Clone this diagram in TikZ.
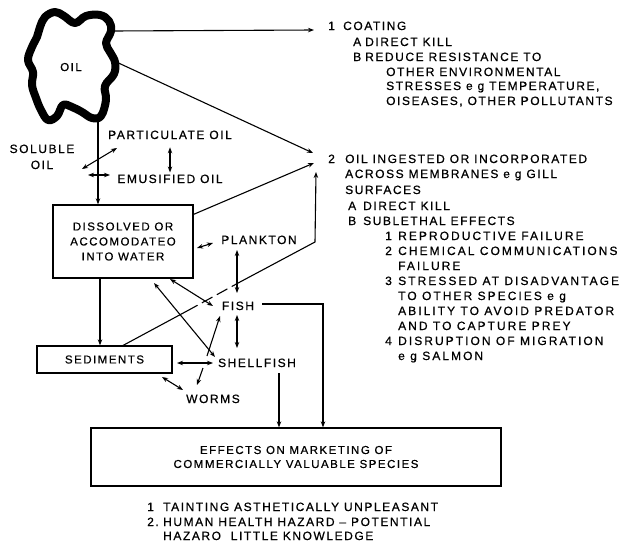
\documentclass[tikz,border=0pt]{standalone}
\usepackage{fontspec}
\setmainfont{Liberation Sans}[LetterSpace=13, FakeBold=0.6]
\usetikzlibrary{arrows.meta,calc}
\newcommand\txtline[3]{\node[txt] (#1) at #2 {#3};}
\begin{document}
\begin{tikzpicture}[x=1pt,y=-1pt,
  font=\fontsize{12}{15}\selectfont,
  txt/.style={anchor=base west, inner sep=0pt},
  ctr/.style={anchor=base, inner sep=0pt},
  boxfont/.style={font=\fontsize{11.5}{15}\selectfont},
  wide/.style={font=\fontsize{12}{15}\selectfont\addfontfeature{LetterSpace=17}},
  boxed/.style={draw, line width=1.3pt, inner sep=0pt, align=center, boxfont},
  link/.style={line width=1.1pt},
  arr/.style={link, -{Stealth[length=6pt,width=4.5pt]}},
  darr/.style={link, {Stealth[length=6pt,width=4.5pt]}-{Stealth[length=6pt,width=4.5pt]}},
  dash link/.style={link, dash pattern=on 12pt off 5pt},
]
\fill[white] (0,0) rectangle (621,546);
\useasboundingbox (0,0) rectangle (621,546);

% the oil slick
\draw[line width=8pt, line join=round]
  plot[smooth cycle, tension=0.65] coordinates {
    (45,17) (55,12) (64,16) (75,23) (86,16) (100,15) (109,21)
    (111,31) (106,43) (110,52) (115,62) (114,74) (105,86) (106,100)
    (101,116) (92,118) (82,112) (72,107) (63,105) (57,116) (48,120)
    (41,110) (36,98) (32,85) (33,72) (28,60) (32,47) (37,37) (40,27)};
\node[ctr, boxfont] (oil) at (71,71) {OIL};
\coordinate (oilE) at (113,31);
\coordinate (oilNE) at (112,60);
\coordinate (oilS) at (98,119);

% forms of the oil
\node[ctr] (par) at (170,139) {PARTICULATE OIL};
\node[ctr] (emu) at (170,183) {EMUSIFIED OIL};
\node[inner sep=0pt, align=center, anchor=base] (sol) at (42,169) {SOLUBLE\\[1pt]OIL};

% boxes
\node[boxed, minimum width=140pt, minimum height=73pt] (dis) at (123,241.5)
  {DISSOLVED OR\\ACCOMODATEO\\INTO WATER};
\node[boxed, minimum width=135pt, minimum height=27pt] (sed) at (104.5,359.5) {SEDIMENTS};
\node[boxed, minimum width=410pt, minimum height=58pt, font=\fontsize{11.5}{14}\selectfont]
  (eff) at (296,457) {EFFECTS ON MARKETING OF\\COMMERCIALLY VALUABLE SPECIES};

% organisms
\node[ctr] (pla) at (259,244) {PLANKTON};
\node[ctr] (fish) at (238,310) {FISH};
\node[ctr] (shf) at (257,367) {SHELLFISH};
\node[ctr] (wrm) at (213,403) {WORMS};

% list of effects of coating
\txtline{n1}{(328,30)}{1}
\txtline{c1}{(343,30)}{COATING}
\txtline{c1a}{(353,46)}{A}
\txtline{c1at}{(365,46)}{DIRECT KILL}
\txtline{c1b}{(353,61)}{B}
\txtline{c1bt}{(365,61)}{REDUCE RESISTANCE TO}
\txtline{c1b2}{(386,76)}{OTHER ENVIRONMENTAL}
\txtline{c1b3}{(386,90)}{STRESSES e g TEMPERATURE,}
\txtline{c1b4}{(386,105)}{OISEASES, OTHER POLLUTANTS}

% list of effects of ingested oil
\txtline{n2}{(328,163)}{2}
\txtline{c2}{(345,163)}{OIL INGESTED OR INCORPORATED}
\txtline{c2l2}{(345,178)}{ACROSS MEMBRANES e g GILL}
\txtline{c2l3}{(345,194)}{SURFACES}
\txtline{c2a}{(348,210)}{A}
\txtline{c2at}{(363,210)}{DIRECT KILL}
\txtline{c2b}{(348,225)}{B}
\txtline{c2bt}{(363,225)}{SUBLETHAL EFFECTS}
\begin{scope}[wide]
\txtline{s1}{(385,240)}{1}
\txtline{s1t}{(398,240)}{REPRODUCTIVE FAILURE}
\txtline{s2}{(385,255)}{2}
\txtline{s2t}{(398,255)}{CHEMICAL COMMUNICATIONS}
\txtline{s2t2}{(398,270)}{FAILURE}
\txtline{s3}{(385,285)}{3}
\txtline{s3t}{(398,285)}{STRESSED AT DISADVANTAGE}
\txtline{s3t2}{(398,300)}{TO OTHER SPECIES e g}
\txtline{s3t3}{(398,315)}{ABILITY TO AVOID PREDATOR}
\txtline{s3t4}{(398,330)}{AND TO CAPTURE PREY}
\txtline{s4}{(385,345)}{4}
\txtline{s4t}{(398,345)}{DISRUPTION OF MIGRATION}
\txtline{s4t2}{(398,360)}{e g SALMON}
\end{scope}

% list under the marketing box
\txtline{m1}{(147,511)}{1}
\txtline{m1t}{(163,511)}{TAINTING ASTHETICALLY UNPLEASANT}
\txtline{m2}{(147,526)}{2.}
\txtline{m2t}{(163,526)}{HUMAN HEALTH HAZARD -- POTENTIAL}
\txtline{m2t2}{(163,540)}{HAZARO\ \ LITTLE KNOWLEDGE}

% arrow ends beside the numbered lists
\coordinate (to1) at (314,30);
\coordinate (to2a) at (313,153);
\coordinate (to2b) at (314,163);
\coordinate (to2c) at (316,172);

% routes from the slick
\draw[arr] (oilE) -- (to1);
\draw[arr] (oilNE) -- (to2a);
\draw[arr] (oilS) -- (oilS |- dis.north);
\draw[arr] ($(dis.north east)+(0,10)$) -- (to2b);

% exchanges between forms of oil
\coordinate (solA) at (82,169);
\coordinate (parA) at (117,148);
\coordinate (solB) at (88,175);
\coordinate (emuB) at (110,175);
\draw[darr] (solA) -- (parA);
\draw[darr] (solB) -- (emuB);
\draw[darr] ([yshift=-8pt]par.south) -- ([yshift=2pt]emu.north);

% water column and organisms
\coordinate (disP) at (197,248);
\coordinate (plaD) at (213,243);
\draw[darr] (disP) -- (plaD);
\draw[darr] (237,250) -- (237,293);
\draw[darr] (237,315) -- (237,348);
\draw[darr] (170,279) -- (213,306);
\draw[darr] (154,283) -- (215,357);
\draw[arr] (dis.south -| 100,0) -- (sed.north -| 100,0);
\draw[darr] (177,363) -- (213,363);
\draw[arr] (207,356) -- (220,316);
\draw[arr] (203,368) -- (197,385);
\draw[darr] (162,377) -- (183,390);

% uptake from sediments
\coordinate (sedUp) at (122,346);
\coordinate (d1) at (187,311);
\coordinate (d2) at (240,282);
\coordinate (bend) at (315,242);
\draw[link] (sedUp) -- (d1);
\draw[dash link] (d1) -- (d2);
\draw[arr] (d2) -- (bend) -- (to2c);

% routes to marketing
\draw[arr] (262,304) -- (323,304) -- (eff.north -| 323,0);
\draw[arr] (279,373) -- (eff.north -| 279,0);
\end{tikzpicture}
\end{document}
